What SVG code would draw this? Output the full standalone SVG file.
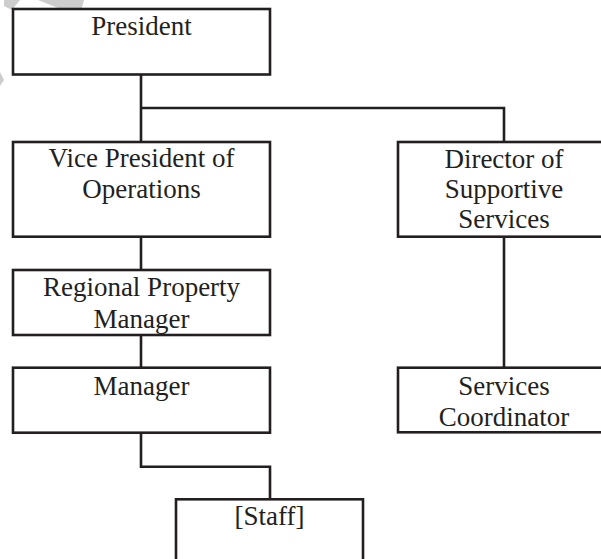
<svg xmlns="http://www.w3.org/2000/svg" width="601" height="559" viewBox="0 0 601 559">
<style>
.box{fill:#fff;stroke:#231f20;stroke-width:2.6}
.con{fill:none;stroke:#231f20;stroke-width:2.6}
text{font-family:"Liberation Serif","Times New Roman",serif;font-size:27px;fill:#231f20;text-anchor:middle}
.wm{fill:#cdcdcd}
</style>
<rect width="601" height="559" fill="#fff"/>
<g id="watermark">
<polygon class="wm" points="4,0 20,0 12,10 4,6"/>
<polygon class="wm" points="38,0 84,0 80,15 68,12"/>
<polygon class="wm" points="0,72 4,80 0,86"/>
</g>
<g id="connectors">
<path class="con" d="M141,74.5 V142 M141,108 H504 V142"/>
<path class="con" d="M141,236.7 V270"/>
<path class="con" d="M141,335 V367.7"/>
<path class="con" d="M141,432.7 V466.7 H270 V499.3"/>
<path class="con" d="M504,236.7 V367.7"/>
</g>
<g id="president">
<rect class="box" x="13" y="9" width="257" height="65.5"/>
<text x="141.5" y="34.5">President</text>
</g>
<g id="vp-operations">
<rect class="box" x="13" y="142" width="257" height="94.7"/>
<text x="141.5" y="167.3">Vice President of</text>
<text x="141.5" y="198.3">Operations</text>
</g>
<g id="director-supportive">
<rect class="box" x="398" y="142" width="215" height="94.7"/>
<text x="504" y="168.3">Director of</text>
<text x="504" y="197.5">Supportive</text>
<text x="504" y="228">Services</text>
</g>
<g id="regional-manager">
<rect class="box" x="13" y="270" width="257" height="65"/>
<text x="141.5" y="295.7">Regional Property</text>
<text x="141.5" y="328.3">Manager</text>
</g>
<g id="manager">
<rect class="box" x="13" y="367.7" width="257" height="65"/>
<text x="141.5" y="395">Manager</text>
</g>
<g id="services-coordinator">
<rect class="box" x="398" y="367.7" width="215" height="64.6"/>
<text x="504" y="395">Services</text>
<text x="504" y="426">Coordinator</text>
</g>
<g id="staff">
<rect class="box" x="176" y="499.3" width="187" height="70"/>
<text x="269.5" y="525">[Staff]</text>
</g>
</svg>
